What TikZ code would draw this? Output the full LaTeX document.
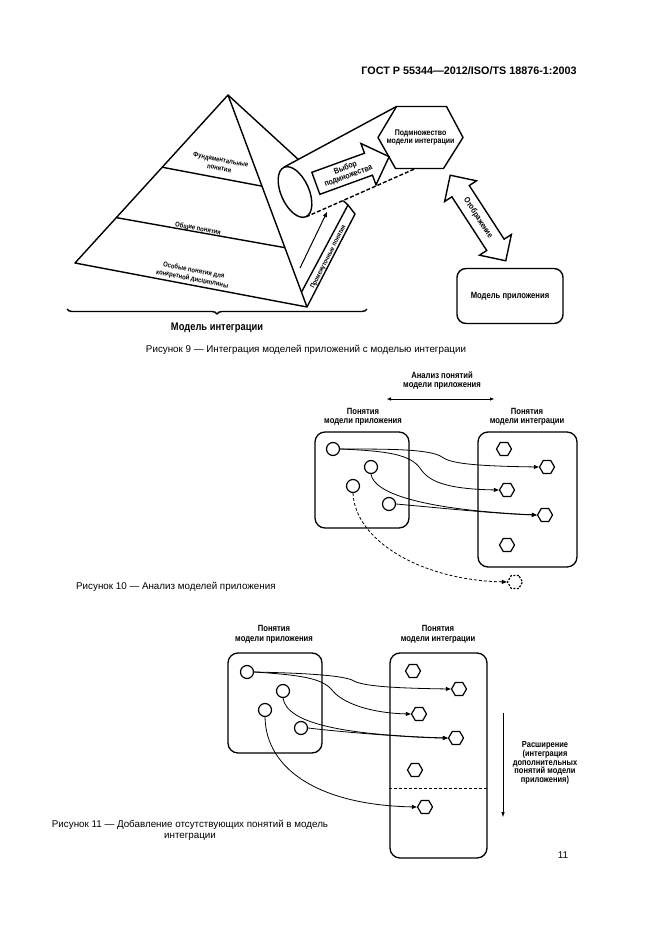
\documentclass[tikz,border=0pt]{standalone}
\usepackage{fontspec}
\setmainfont{Liberation Sans}
\newfontfamily\lab{Liberation Sans}[FakeStretch=0.85]
\usetikzlibrary{shapes.geometric,shapes.arrows,arrows.meta,decorations.pathreplacing,calc}
\begin{document}
\begin{tikzpicture}[x=1pt,y=-1pt,
  lbl/.style={font=\lab\bfseries\fontsize{9}{9.3}\selectfont, align=center, inner sep=0pt},
  slbl/.style={font=\lab\bfseries\fontsize{8.2}{8.6}\selectfont, align=center, inner sep=0pt},
  plbl/.style={font=\lab\bfseries\fontsize{7}{8.6}\selectfont, align=center, inner sep=0pt},
  captxt/.style={font=\fontsize{9.8}{10.8}\selectfont, align=center, inner sep=0pt},
  thk/.style={line width=1.4pt},
  cnode/.style={circle, draw, line width=1.2pt, minimum size=13pt, inner sep=0pt},
  hnode/.style={regular polygon, regular polygon sides=6, draw, line width=1.2pt, minimum size=15pt, inner sep=0pt},
  conn/.style={line width=0.8pt, -{Triangle[length=5pt,width=4pt]}},
  cbox/.style={draw, line width=1.3pt, rounded corners=10pt}]
\useasboundingbox (0,0) rectangle (661,936);

% header
\node[font=\bfseries\fontsize{10.8}{12}\selectfont, inner sep=0pt] (hdr) at (469,71) {ГОСТ Р 55344—2012/ISO/TS 18876-1:2003};

% ---------------- Figure 9 ----------------
\coordinate (A) at (228,95);
\coordinate (L) at (75,263);
\coordinate (R) at (307,307);
\coordinate (S1) at (348,205);
\coordinate (S2) at (355,214);
\draw[thk, line join=round] (L) -- (A) -- (R) -- cycle;
\draw[thk] ($(A)!0.43!(L)$) -- ($(A)!0.43!(R)$);
\draw[thk] ($(A)!0.73!(L)$) -- ($(A)!0.72!(R)$);
\draw[thk] (A) -- (S1);
\draw[thk, line join=round] ($(A)!0.93!(R)$) -- (S1) -- (S2) -- (R);
\node[plbl, rotate=-11] (p1) at (220,164) {Фундаментальные\\понятия};
\node[plbl, rotate=-11] (p2) at (198,229) {Общие понятия};
\node[plbl, rotate=-11] (p3) at (193,275) {Особые понятия для\\конкретной дисциплины};
\node[font=\lab\bfseries\fontsize{6.6}{7}\selectfont, inner sep=0pt, rotate=63] (p4) at (328.5,257) {Промежуточные понятия};
\coordinate (fa1) at (300,268);
\coordinate (fa2) at (327,212);
\draw[line width=1pt, -{Triangle[length=5pt,width=4pt]}] (fa1) -- (fa2);

% brace
\draw[thk, decorate, decoration={brace, mirror, amplitude=5pt}] (67,309) -- (367,309);
\node[font=\lab\bfseries\fontsize{11}{12}\selectfont, inner sep=0pt] (mi) at (217,328) {Модель интеграции};

% hexagon (subset)
\coordinate (hc) at (420.5,137.5);
\coordinate (HL) at ($(hc)+(-42.5,0)$);
\coordinate (HTL) at ($(hc)+(-24,-31)$);
\coordinate (HTR) at ($(hc)+(26,-31)$);
\coordinate (HR) at ($(hc)+(42.5,0)$);
\coordinate (HBR) at ($(hc)+(23,31)$);
\coordinate (HBL) at ($(hc)+(-25,31)$);

% cylinder / cone
\node[ellipse, minimum width=28pt, minimum height=54pt, inner sep=0pt, rotate=24] (cyl) at (295,192) {};
\coordinate (HE) at ($(HR)!0.45!(HBR)$);
\fill[white] (cyl.north) -- (HTL) -- (HE) -- (cyl.south) -- cycle;
\draw[thk] (cyl.north) -- (HTL);
\draw[thk, dashed, dash pattern=on 4pt off 2pt] (cyl.south) -- (HE);
\node[ellipse, draw, thk, fill=white, minimum width=28pt, minimum height=54pt, inner sep=0pt, rotate=24] (cyl2) at (295,192) {};
\filldraw[thk, fill=white, line join=round] (HL) -- (HTL) -- (HTR) -- (HR) -- (HBR) -- (HBL) -- cycle;
\node[slbl] (hex) at (hc) {Подмножество\\модели интеграции};

\node[single arrow, draw, thk, fill=white, rotate=20, slbl, inner xsep=1pt, inner ysep=2.5pt,
      minimum height=78pt, minimum width=44pt, single arrow head extend=10pt] (sel) at (347,172) {Выбор\\подмножества};

% mapping double arrow
\node[double arrow, draw, thk, fill=white, rotate=-57, slbl, inner xsep=2pt, inner ysep=4pt,
      minimum height=102pt, minimum width=38pt] (map) at (478,218) {Отображение};

% application model
\node[draw, thk, rounded corners=9pt, minimum width=106pt, minimum height=55pt, lbl] (app) at (510,296) {Модель приложения};

\node[captxt] (cap9) at (306,350) {Рисунок 9 — Интеграция моделей приложений с моделью интеграции};

% ---------------- Figure 10 ----------------
\node[lbl] (an) at (442,380.5) {Анализ понятий\\модели приложения};
\coordinate (an1) at (387,399);
\coordinate (an2) at (494,399);
\draw[line width=1pt, {Triangle[length=4pt,width=3pt]}-{Triangle[length=4pt,width=3pt]}] (an1) -- (an2);
\node[lbl] (l10) at (363,416.5) {Понятия\\модели приложения};
\node[lbl] (r10) at (527,416.5) {Понятия\\модели интеграции};
\node[cbox, minimum width=94pt, minimum height=96pt] (LB10) at (362,480) {};
\node[cbox, minimum width=99pt, minimum height=135pt] (RB10) at (527.5,499.5) {};
\node[cnode] (a1) at (333,449) {};
\node[cnode] (a2) at (371,467) {};
\node[cnode] (a3) at (353,486) {};
\node[cnode] (a4) at (389,504) {};
\node[hnode] (b1) at (504,449) {};
\node[hnode] (b2) at (547,467) {};
\node[hnode] (b3) at (507,490) {};
\node[hnode] (b4) at (545,515) {};
\node[hnode] (b5) at (507,545) {};
\node[hnode, dashed, dash pattern=on 2pt off 1.5pt] (bd) at (515,582) {};
\draw[conn] (a1.east) .. controls (390,449) and (430,449) .. (442,457) .. controls (450,463) and (470,466) .. (b2.west);
\draw[conn] (a1.east) .. controls (390,451) and (410,455) .. (420,468) .. controls (428,481) and (445,489) .. (b3.west);
\draw[conn] (a2.south) .. controls (374,495) and (430,510) .. (b4.west);
\draw[conn] (a4.east) .. controls (440,508) and (500,514) .. (b4.west);
\draw[conn, dashed, dash pattern=on 3pt off 2pt] (a3.south) .. controls (355,540) and (420,580) .. (bd.west);

\node[captxt, anchor=west] (cap10) at (76,587) {Рисунок 10 — Анализ моделей приложения};

% ---------------- Figure 11 ----------------
\node[lbl, font=\lab\bfseries\fontsize{9}{10.5}\selectfont] (l11) at (274,634.5) {Понятия\\модели приложения};
\node[lbl, font=\lab\bfseries\fontsize{9}{10.5}\selectfont] (r11) at (438,634.5) {Понятия\\модели интеграции};
\node[cbox, minimum width=94pt, minimum height=100pt] (LB11) at (275,703) {};
\node[cbox, minimum width=97pt, minimum height=205pt] (RB11) at (438.5,755.5) {};
\draw[line width=0.8pt, dashed, dash pattern=on 3pt off 2pt] ($(RB11.west)+(0,32.5)$) -- ($(RB11.east)+(0,32.5)$);
\node[cnode] (c1) at (247,672) {};
\node[cnode] (c2) at (283,691) {};
\node[cnode] (c3) at (265,710) {};
\node[cnode] (c4) at (301,728) {};
\node[hnode] (d1) at (413,671) {};
\node[hnode] (d2) at (459,689) {};
\node[hnode] (d3) at (419,714) {};
\node[hnode] (d4) at (456,738) {};
\node[hnode] (d5) at (415,770) {};
\node[hnode] (d6) at (425,807) {};
\draw[conn] (c1.east) .. controls (300,673) and (340,675) .. (352,680) .. controls (360,685) and (380,688) .. (d2.west);
\draw[conn] (c1.east) .. controls (300,675) and (322,678) .. (332,690) .. controls (342,703) and (370,713) .. (d3.west);
\draw[conn] (c2.south) .. controls (287,725) and (350,735) .. (d4.west);
\draw[conn] (c4.east) .. controls (350,733) and (420,738) .. (d4.west);
\draw[conn] (c3.south) .. controls (266,770) and (320,805) .. (d6.west);
\coordinate (v1) at (503,713);
\coordinate (v2) at (503,817);
\draw[line width=1pt, -{Triangle[length=5pt,width=3pt]}] (v1) -- (v2);
\node[lbl, font=\lab\bfseries\fontsize{8.8}{8.8}\selectfont] (ext) at (545,763) {Расширение\\(интеграция\\дополнительных\\понятий модели\\приложения)};

\node[captxt] (cap11) at (190,830) {Рисунок 11 — Добавление отсутствующих понятий в модель\\интеграции};

\node[captxt] (pg) at (563,855) {11};
\end{tikzpicture}
\end{document}
